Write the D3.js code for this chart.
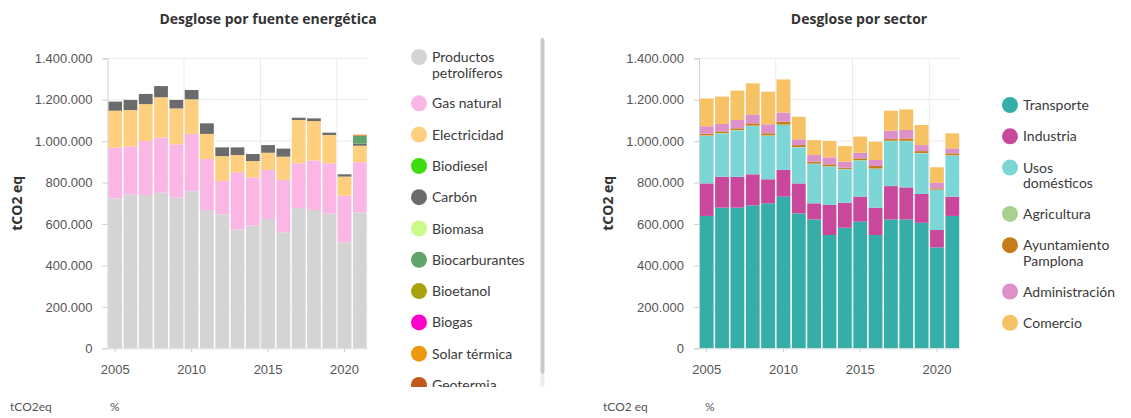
<!DOCTYPE html>
<html>
<head>
<meta charset="utf-8">
<script src="https://cdn.jsdelivr.net/npm/d3@7/dist/d3.min.js"></script>
<style>
  html, body { margin: 0; padding: 0; background: #fff; }
  svg { display: block; }
  .axis-label { font-family: "Liberation Sans", Arial, sans-serif; font-size: 13px; fill: #555; }
  .title { font-family: "Open Sans", Lato, sans-serif; font-size: 14px; font-weight: bold; fill: #333; }
  .legend-text { font-family: Lato, "Open Sans", sans-serif; font-size: 14px; fill: #3a3a3a; }
  .unit { font-family: Lato, "Open Sans", sans-serif; font-size: 12px; fill: #555; }
</style>
</head>
<body>
<svg id="chart" width="1131" height="418"></svg>
<script>
// Years shown on both charts
const years = [2005, 2006, 2007, 2008, 2009, 2010, 2011, 2012, 2013, 2014, 2015, 2016, 2017, 2018, 2019, 2020, 2021];
const yearTicks = [2005, 2010, 2015, 2020];
const yTicks = [0, 200000, 400000, 600000, 800000, 1000000, 1200000, 1400000];

// Emissions by energy source (tCO2 eq)
const fuenteNames = ["Productos petrolíferos", "Gas natural", "Electricidad", "Biodiesel", "Carbón", "Biomasa",
  "Biocarburantes", "Bioetanol", "Biogas", "Solar térmica", "Geotermia"];
const fuenteColors = ["#d4d4d4", "#fab7e5", "#fdcf7e", "#3ddc0c", "#6b6b6b", "#ccfa8a",
  "#5fa46b", "#a8a20c", "#ff00c8", "#eb9a10", "#c0591c"];
const productosPetroliferos = [724000, 742000, 740000, 751000, 727000, 759000, 668000, 647000, 574000, 592000, 624000, 560000, 677000, 668000, 650000, 512000, 656000];
const gasNatural = [245000, 233000, 261000, 266000, 258000, 276000, 246000, 161000, 276000, 233000, 237000, 253000, 216000, 239000, 243000, 225000, 242000];
const electricidad = [178000, 175000, 178000, 195000, 173000, 167000, 121000, 120000, 83000, 79000, 83000, 112000, 209000, 190000, 137000, 92000, 80000];
const biodiesel = [0, 0, 0, 0, 0, 0, 0, 0, 0, 0, 0, 0, 0, 0, 0, 0, 0];
const carbon = [44000, 49000, 49000, 54000, 41000, 45000, 51000, 42000, 37000, 34000, 37000, 39000, 11000, 13000, 11000, 11000, 10000];
const biomasa = [0, 0, 0, 0, 0, 0, 0, 0, 0, 0, 0, 0, 0, 0, 0, 0, 0];
const biocarburantes = [0, 0, 0, 0, 0, 0, 0, 0, 0, 0, 0, 0, 0, 0, 0, 0, 37000];
const bioetanol = [0, 0, 0, 0, 0, 0, 0, 0, 0, 0, 0, 0, 0, 0, 0, 0, 0];
const biogas = [0, 0, 0, 0, 0, 0, 0, 0, 0, 0, 0, 0, 0, 0, 0, 0, 0];
const solarTermica = [0, 0, 0, 0, 0, 0, 0, 0, 0, 0, 0, 0, 0, 0, 0, 0, 3000];
const geotermia = [0, 0, 0, 0, 0, 0, 0, 0, 0, 0, 0, 0, 0, 0, 0, 0, 3000];
const fuenteSeries = [productosPetroliferos, gasNatural, electricidad, biodiesel, carbon, biomasa,
  biocarburantes, bioetanol, biogas, solarTermica, geotermia];

// Emissions by sector (tCO2 eq)
const sectorNames = ["Transporte", "Industria", "Usos domésticos", "Agricultura", "Ayuntamiento Pamplona", "Administración", "Comercio"];
const sectorColors = ["#35aeaa", "#c9489b", "#7cd6d6", "#a9d18e", "#c77c1a", "#de90c8", "#f6c263"];
const transporte = [639000, 679000, 679000, 690000, 700000, 732000, 651000, 622000, 547000, 582000, 611000, 547000, 622000, 622000, 606000, 487000, 639000];
const industria = [157000, 149000, 149000, 150000, 116000, 129000, 145000, 78000, 145000, 121000, 121000, 132000, 161000, 155000, 139000, 84000, 93000];
const usosDomesticos = [230000, 209000, 224000, 233000, 210000, 217000, 174000, 190000, 185000, 161000, 174000, 187000, 217000, 223000, 196000, 193000, 198000];
const agricultura = [2000, 2000, 2000, 2000, 2000, 2000, 2000, 2000, 2000, 2000, 2000, 2000, 2000, 2000, 2000, 2000, 2000];
const ayuntamiento = [8000, 8000, 8000, 11000, 10000, 14000, 9000, 9000, 9000, 6000, 9000, 12000, 8000, 11000, 9000, 6000, 9000];
const administracion = [36000, 36000, 40000, 43000, 43000, 44000, 28000, 32000, 34000, 29000, 27000, 29000, 41000, 41000, 29000, 27000, 24000];
const comercio = [134000, 132000, 142000, 150000, 158000, 160000, 109000, 72000, 79000, 75000, 78000, 88000, 96000, 99000, 97000, 75000, 73000];
const sectorSeries = [transporte, industria, usosDomesticos, agricultura, ayuntamiento, administracion, comercio];

const svg = d3.select("#chart");
const fmt = d => d3.format(",")(d).replace(/,/g, ".");

function drawChart(opts) {
  const { left, right, top, bottom, title, titleX, names, colors, series } = opts;
  const g = svg.append("g");

  const x = d3.scaleBand().domain(years).range([left, right]).paddingInner(0.1).paddingOuter(0.05);
  const y = d3.scaleLinear().domain([0, 1400000]).range([bottom, top]);

  // Horizontal grid
  g.append("g").selectAll("line").data(yTicks.slice(1)).join("line")
    .attr("x1", left).attr("x2", right)
    .attr("y1", d => y(d)).attr("y2", d => y(d))
    .attr("stroke", "#ebebeb").attr("stroke-width", 1);

  // Vertical grid at the start of each labelled year
  g.append("g").selectAll("line").data(yearTicks.slice(1)).join("line")
    .attr("x1", d => x(d) - x.step() * x.paddingInner() / 2).attr("x2", d => x(d) - x.step() * x.paddingInner() / 2)
    .attr("y1", top).attr("y2", bottom)
    .attr("stroke", "#ebebeb").attr("stroke-width", 1);

  // Stacked bars
  const rows = years.map((yr, i) => {
    const r = { year: yr };
    names.forEach((n, k) => { r[n] = series[k][i]; });
    return r;
  });
  const stacked = d3.stack().keys(names)(rows);
  g.append("g").selectAll("g").data(stacked).join("g")
    .attr("fill", (d, i) => colors[i])
    .selectAll("rect").data(d => d).join("rect")
    .attr("x", d => x(d.data.year))
    .attr("width", x.bandwidth())
    .attr("y", d => y(d[1]))
    .attr("height", d => Math.max(0, y(d[0]) - y(d[1])));

  // Y axis
  const yAxis = g.append("g").attr("transform", `translate(${left},0)`)
    .call(d3.axisLeft(y).tickValues(yTicks).tickFormat(fmt).tickSize(5).tickPadding(10));
  yAxis.select(".domain").attr("stroke", "#cfcfcf");
  yAxis.selectAll(".tick line").attr("stroke", "#cfcfcf");
  yAxis.selectAll(".tick text").attr("class", "axis-label").attr("fill", null);

  // X axis
  const xAxis = g.append("g").attr("transform", `translate(0,${bottom})`)
    .call(d3.axisBottom(x).tickValues(yearTicks).tickSize(4).tickPadding(12).tickSizeOuter(0));
  xAxis.select(".domain").attr("stroke", "#dcdcdc");
  xAxis.selectAll(".tick line").attr("stroke", "#cfcfcf");
  xAxis.selectAll(".tick text").attr("class", "axis-label").attr("fill", null);

  // Titles
  g.append("text").attr("class", "title").attr("x", titleX).attr("y", 24)
    .attr("text-anchor", "middle").text(title);
  g.append("text").attr("class", "title")
    .attr("transform", `translate(${left - 86},${(top + bottom) / 2}) rotate(-90)`)
    .attr("text-anchor", "middle").text("tCO2 eq");
}

function drawLegend(opts) {
  const { x0, y0, names, colors, clip } = opts;
  const g = svg.append("g");
  if (clip) {
    svg.append("clipPath").attr("id", clip.id).append("rect")
      .attr("x", clip.x).attr("y", clip.y).attr("width", clip.w).attr("height", clip.h);
    g.attr("clip-path", `url(#${clip.id})`);
  }
  let yy = y0;
  names.forEach((n, i) => {
    const lines = n.split("\n");
    g.append("circle").attr("cx", x0).attr("cy", yy).attr("r", 8).attr("fill", colors[i]);
    const t = g.append("text").attr("class", "legend-text").attr("x", x0 + 13).attr("y", yy + 5);
    lines.forEach((ln, j) => {
      t.append("tspan").attr("x", x0 + 13).attr("dy", j === 0 ? 0 : 15.5).text(ln);
    });
    yy += 31.3 + 15 * (lines.length - 1);
  });
}

drawChart({
  left: 107.5, right: 367.5, top: 58.3, bottom: 348.3,
  title: "Desglose por fuente energética", titleX: 268,
  names: fuenteNames, colors: fuenteColors, series: fuenteSeries
});
drawChart({
  left: 699, right: 960, top: 58.3, bottom: 348.3,
  title: "Desglose por sector", titleX: 859,
  names: sectorNames, colors: sectorColors, series: sectorSeries
});

const fuenteLegend = ["Productos\npetrolíferos", "Gas natural", "Electricidad", "Biodiesel", "Carbón", "Biomasa",
  "Biocarburantes", "Bioetanol", "Biogas", "Solar térmica", "Geotermia"];
drawLegend({ x0: 419, y0: 57, names: fuenteLegend, colors: fuenteColors,
  clip: { id: "legclip", x: 400, y: 38, w: 136, h: 349 } });

const sectorLegend = ["Transporte", "Industria", "Usos\ndomésticos", "Agricultura", "Ayuntamiento\nPamplona", "Administración", "Comercio"];
drawLegend({ x0: 1010, y0: 105, names: sectorLegend, colors: sectorColors });

// Legend scrollbar
svg.append("rect").attr("x", 540.5).attr("y", 38).attr("width", 4).attr("height", 336)
  .attr("rx", 2).attr("fill", "#c9c9c9");
svg.append("rect").attr("x", 540.5).attr("y", 374).attr("width", 4).attr("height", 13)
  .attr("fill", "#ececec");

// Units footer
svg.append("text").attr("class", "unit").attr("x", 10).attr("y", 411).text("tCO2eq");
svg.append("text").attr("class", "unit").attr("x", 110).attr("y", 411).text("%");
svg.append("text").attr("class", "unit").attr("x", 603).attr("y", 411).text("tCO2 eq");
svg.append("text").attr("class", "unit").attr("x", 705).attr("y", 411).text("%");
</script>
</body>
</html>
